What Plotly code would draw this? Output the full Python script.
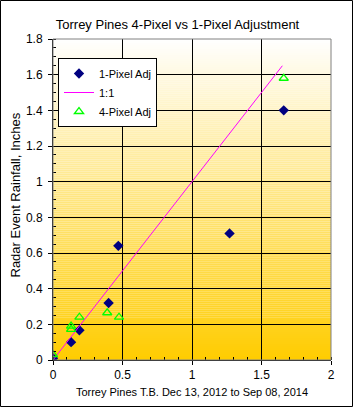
import plotly.graph_objects as go

# ---- data ----
one_pixel_x = [0.0, 0.13, 0.19, 0.40, 0.47, 1.27, 1.66]
one_pixel_y = [0.01, 0.10, 0.167, 0.32, 0.64, 0.71, 1.40]

four_pixel_x = [0.0, 0.13, 0.13, 0.19, 0.39, 0.475, 1.66]
four_pixel_y = [0.03, 0.19, 0.172, 0.24, 0.265, 0.24, 1.58]

line_x = [0.0, 1.65]
line_y = [0.0, 1.65]

title = "Torrey Pines 4-Pixel vs 1-Pixel Adjustment"
x_title = "Torrey Pines T.B. Dec 13, 2012 to Sep 08, 2014"
y_title = "Radar Event Rainfall, Inches"

W, H = 355, 408
L, R, T, B = 53, 24, 39, 48
FONT = "Arial, Liberation Sans, sans-serif"

fig = go.Figure()
fig.add_trace(go.Scatter(
    x=one_pixel_x, y=one_pixel_y, mode="markers", name="1-Pixel Adj",
    marker=dict(symbol="diamond", size=8, color="#000080", line=dict(width=0)),
))
fig.add_trace(go.Scatter(
    x=line_x, y=line_y, mode="lines", name="1:1",
    line=dict(color="#FF00FF", width=1),
))
fig.add_trace(go.Scatter(
    x=four_pixel_x, y=four_pixel_y, mode="markers", name="4-Pixel Adj",
    marker=dict(symbol="triangle-up-open", size=8, color="#00FF00", line=dict(width=1.3)),
))

shapes = []
N = 160
top = (255, 255, 255)
bot = (255, 204, 0)
for i in range(N):
    f = (i + 0.5) / N
    c = tuple(round(bot[k] + (top[k] - bot[k]) * f) for k in range(3))
    shapes.append(dict(type="rect", xref="x domain", yref="y domain",
                       x0=0, x1=1, y0=i / N, y1=(i + 1) / N,
                       fillcolor="rgb(%d,%d,%d)" % c, line=dict(width=0),
                       layer="below"))
shapes.append(dict(type="rect", xref="x domain", yref="y domain", x0=0, x1=1, y0=0, y1=1,
                   line=dict(color="#808080", width=1), fillcolor="rgba(0,0,0,0)", layer="above"))
pw, ph = W - L - R, H - T - B
def px(xp): return (xp - L) / pw
def py(yp): return (H - B - yp) / ph
shapes.append(dict(type="rect", xref="paper", yref="paper",
                   x0=px(0.5), x1=px(352.5), y0=py(406.5), y1=py(0.5),
                   line=dict(color="black", width=1), fillcolor="rgba(0,0,0,0)"))

fig.update_layout(
    width=W, height=H,
    margin=dict(l=L, r=R, t=T, b=B, autoexpand=False),
    paper_bgcolor="white", plot_bgcolor="rgba(0,0,0,0)",
    font=dict(family=FONT, size=12, color="black"),
    title=dict(text=title, x=0.5, xref="container", xanchor="center",
               y=1 - 24 / H, yref="container", yanchor="middle",
               font=dict(size=13, family=FONT, color="black")),
    showlegend=True,
    legend=dict(x=px(58), y=py(58), xanchor="left", yanchor="top",
                bgcolor="white", bordercolor="black", borderwidth=1,
                font=dict(size=11, family=FONT), itemwidth=30,
                tracegroupgap=0),
    shapes=shapes,
    annotations=[dict(text=y_title, xref="paper", yref="paper",
                      x=px(14.5), y=py(195), xanchor="center", yanchor="middle",
                      textangle=-90, showarrow=False,
                      font=dict(size=13, family=FONT, color="black"))],
)

fig.update_xaxes(
    range=[0, 2], tickvals=[0, 0.5, 1, 1.5, 2], ticktext=["0", "0.5", "1", "1.5", "2"],
    showgrid=True, gridcolor="black", gridwidth=1, zeroline=False,
    showline=True, linecolor="black", linewidth=1, automargin=False,
    ticks="outside", ticklen=4, tickcolor="black",
    minor=dict(dtick=0.1, ticks="inside", ticklen=3, tickcolor="black", showgrid=False),
    title=dict(text=x_title, standoff=6, font=dict(size=11)),
    tickfont=dict(size=12),
)
fig.update_yaxes(
    range=[0, 1.8], tickvals=[0, 0.2, 0.4, 0.6, 0.8, 1, 1.2, 1.4, 1.6, 1.8],
    ticktext=["0", "0.2", "0.4", "0.6", "0.8", "1", "1.2", "1.4", "1.6", "1.8"],
    showgrid=True, gridcolor="black", gridwidth=1, zeroline=False,
    showline=True, linecolor="black", linewidth=1, automargin=False,
    ticks="outside", ticklen=4, tickcolor="black",
    minor=dict(dtick=0.05, ticks="inside", ticklen=3, tickcolor="black", showgrid=False),
    ticklabelstandoff=3,
    tickfont=dict(size=12),
)

fig.write_html("out.html", config={"displayModeBar": False},
               post_script="document.body.style.margin='0';document.body.style.overflow='hidden';")
